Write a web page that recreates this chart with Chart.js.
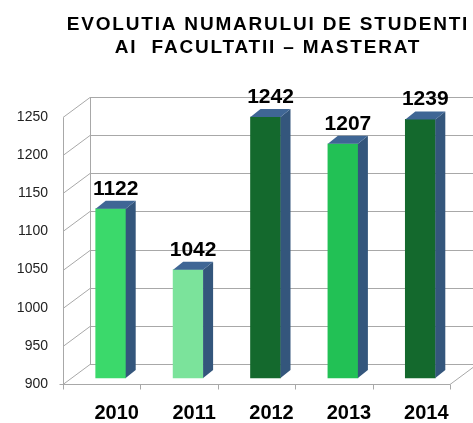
<!DOCTYPE html>
<html>
<head>
<meta charset="utf-8">
<script src="https://cdn.jsdelivr.net/npm/chart.js@4.4.1/dist/chart.umd.min.js"></script>
<style>
  html, body { margin: 0; padding: 0; background: #fff; }
  canvas { display: block; }
</style>
</head>
<body>
<canvas id="studChart" width="473" height="423"></canvas>
<script>
const titleLines = ['EVOLUTIA NUMARULUI DE STUDENTI', 'AI  FACULTATII \u2013 MASTERAT'];
const years = ['2010', '2011', '2012', '2013', '2014'];
const studenti = [1122, 1042, 1242, 1207, 1239];
const barColors = ['#3bd96b', '#7be39b', '#14692d', '#22c155', '#14692d'];
const yMin = 900;
const yMax = 1250;
const yStep = 50;

// adancimea "3D" a peretilor si a barelor
const DEPTH_X = 27, DEPTH_Y = -20;
const BAR_SHIFT_X = 9, BAR_SHIFT_Y = -6;
const SIDE_X = 10, SIDE_Y = -8;

const wallsPlugin = {
  id: 'walls',
  beforeDatasetsDraw(chart) {
    const { ctx, chartArea, scales } = chart;
    const y = scales.y, x = scales.x;
    const W = chart.width;
    ctx.save();
    ctx.strokeStyle = '#a8a8a8';
    ctx.lineWidth = 1;
    ctx.beginPath();
    for (let v = yMin; v <= yMax; v += yStep) {
      const py = Math.round(y.getPixelForValue(v)) + 0.5;
      ctx.moveTo(chartArea.left, py);
      ctx.lineTo(chartArea.left + DEPTH_X, py + DEPTH_Y);
      ctx.lineTo(W, py + DEPTH_Y);
    }
    const lx = chartArea.left + 0.5;
    const bottom = Math.round(y.getPixelForValue(yMin)) + 0.5;
    const top = Math.round(y.getPixelForValue(yMax)) + 0.5;
    // perete spate stanga
    ctx.moveTo(lx + DEPTH_X, top + DEPTH_Y);
    ctx.lineTo(lx + DEPTH_X, bottom + DEPTH_Y);
    // axa fata
    ctx.moveTo(lx, top);
    ctx.lineTo(lx, bottom);
    ctx.moveTo(lx - 4, bottom);
    ctx.lineTo(chartArea.right, bottom);
    ctx.lineTo(chartArea.right + DEPTH_X, bottom + DEPTH_Y);
    for (let i = 0; i <= years.length; i++) {
      const px = Math.round(x.getPixelForValue(i - 0.5)) + 0.5;
      ctx.moveTo(px, bottom);
      ctx.lineTo(px, bottom + 5);
    }
    ctx.stroke();
    ctx.restore();

    // barele stau la mijlocul adancimii
    ctx.save();
    ctx.translate(BAR_SHIFT_X, BAR_SHIFT_Y);
  },
  afterDatasetsDraw(chart) {
    const { ctx } = chart;
    const meta = chart.getDatasetMeta(0);
    meta.data.forEach((bar, i) => {
      const left = bar.x - bar.width / 2;
      const right = bar.x + bar.width / 2;
      // fata laterala
      ctx.fillStyle = '#34567c';
      ctx.beginPath();
      ctx.moveTo(right, bar.y);
      ctx.lineTo(right + SIDE_X, bar.y + SIDE_Y);
      ctx.lineTo(right + SIDE_X, bar.base + SIDE_Y);
      ctx.lineTo(right, bar.base);
      ctx.closePath();
      ctx.fill();
      // fata de sus
      ctx.fillStyle = '#3f6695';
      ctx.beginPath();
      ctx.moveTo(left, bar.y);
      ctx.lineTo(left + SIDE_X, bar.y + SIDE_Y);
      ctx.lineTo(right + SIDE_X, bar.y + SIDE_Y);
      ctx.lineTo(right, bar.y);
      ctx.closePath();
      ctx.fill();
      // eticheta valorii
      ctx.fillStyle = '#000';
      ctx.font = 'bold 21px "Liberation Sans", Arial, sans-serif';
      ctx.textAlign = 'center';
      ctx.textBaseline = 'alphabetic';
      ctx.fillText(String(studenti[i]), bar.x + 5, bar.y - 14);
    });
    ctx.restore();
  },
  afterDraw(chart) {
    const { ctx } = chart;
    ctx.save();
    ctx.fillStyle = '#000';
    ctx.font = 'bold 19px "Liberation Sans", Arial, sans-serif';
    ctx.textAlign = 'center';
    ctx.textBaseline = 'alphabetic';
    ctx.letterSpacing = '1.8px';
    ctx.fillText(titleLines[0], 268, 30);
    ctx.fillText(titleLines[1], 268, 53);
    ctx.restore();
  }
};

new Chart(document.getElementById('studChart'), {
  type: 'bar',
  data: {
    labels: years,
    datasets: [{
      data: studenti,
      base: yMin,
      backgroundColor: barColors,
      borderWidth: 0,
      barThickness: 30,
      clip: false
    }]
  },
  options: {
    responsive: false,
    animation: false,
    layout: { padding: { top: 117, right: 23, left: 0, bottom: 0 } },
    scales: {
      x: {
        grid: { display: false, drawTicks: false },
        border: { display: false },
        ticks: {
          color: '#000',
          font: { family: '"Liberation Sans", Arial, sans-serif', size: 20, weight: 'bold' },
          padding: 17,
          labelOffset: 15,
          maxRotation: 0
        },
        afterFit(s) { s.height = 39; }
      },
      y: {
        min: yMin,
        max: yMax,
        grid: { display: false, drawTicks: false },
        border: { display: false },
        ticks: {
          stepSize: yStep,
          color: '#222',
          font: { family: '"Liberation Sans", Arial, sans-serif', size: 14 },
          padding: 15,
          callback: v => String(v)
        },
        afterFit(s) { s.width = 63; }
      }
    },
    plugins: {
      legend: { display: false },
      tooltip: { enabled: false },
      title: { display: false }
    }
  },
  plugins: [wallsPlugin]
});
</script>
</body>
</html>
